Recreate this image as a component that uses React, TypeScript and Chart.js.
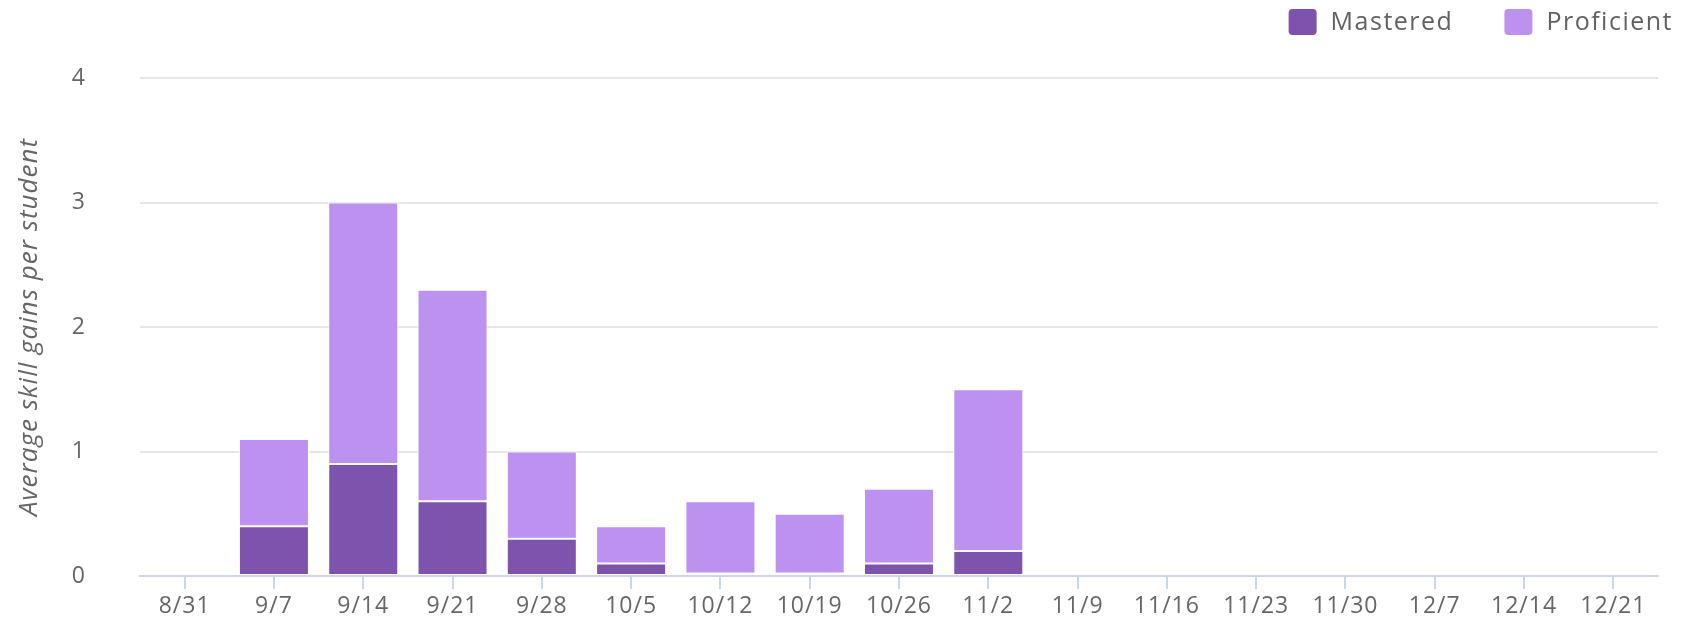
import React, { useEffect, useRef } from "react";
import { Chart, registerables } from "chart.js";

Chart.register(...registerables);

const weekLabels = ["8/31", "9/7", "9/14", "9/21", "9/28", "10/5", "10/12", "10/19", "10/26", "11/2", "11/9", "11/16", "11/23", "11/30", "12/7", "12/14", "12/21"];
const masteredValues = [null, 0.4, 0.9, 0.6, 0.3, 0.1, 0.02, 0.02, 0.1, 0.2, null, null, null, null, null, null, null];
const proficientValues = [null, 0.7, 2.1, 1.7, 0.7, 0.3, 0.58, 0.48, 0.6, 1.3, null, null, null, null, null, null, null];
const yTickValues = [0, 1, 2, 3, 4];
const seriesNames = ["Mastered", "Proficient"];
const seriesColors = ["#7e53ad", "#bd91f0"];

const FONT = "'Open Sans', 'Noto Sans', sans-serif";

const spacingPlugin = {
  id: "spacing",
  beforeUpdate(chart: any) {
    chart.ctx.letterSpacing = "1px";
  },
  beforeDraw(chart: any) {
    chart.ctx.letterSpacing = "1px";
  },
};

const customLegend = {
  id: "customLegend",
  afterDraw(chart: any) {
    const ctx = chart.ctx;
    const items = chart.data.datasets.map((d: any) => ({ text: d.label, color: d.backgroundColor }));
    ctx.save();
    ctx.font = `25px ${FONT}`;
    ctx.letterSpacing = "1.5px";
    ctx.textBaseline = "middle";
    ctx.textAlign = "left";
    const boxW = 28;
    const boxH = 26;
    const gapBoxText = 14;
    const gapItems = 51;
    const rightEdge = chart.width - 20;
    const widths = items.map((it: any) => boxW + gapBoxText + ctx.measureText(it.text).width);
    const total = widths.reduce((a: number, b: number) => a + b, 0) + gapItems * (items.length - 1);
    let x = rightEdge - total;
    const cy = 22;
    items.forEach((it: any, i: number) => {
      ctx.fillStyle = it.color;
      ctx.beginPath();
      (ctx as any).roundRect(x, cy - boxH / 2, boxW, boxH, 4);
      ctx.fill();
      ctx.fillStyle = "#626262";
      ctx.fillText(it.text, x + boxW + gapBoxText, cy + 1);
      x += widths[i] + gapItems;
    });
    ctx.restore();
  },
};

export default function App() {
  const ref = useRef<HTMLCanvasElement | null>(null);
  useEffect(() => {
    document.body.style.margin = "0";
    const canvas = ref.current;
    if (!canvas) return;
    const chart = new Chart(canvas, {
      type: "bar",
      data: {
        labels: weekLabels,
        datasets: [
          {
            label: seriesNames[0],
            data: masteredValues as any,
            backgroundColor: seriesColors[0],
            borderColor: "#ffffff",
            borderWidth: 1,
            borderSkipped: false,
            barPercentage: 0.784,
            categoryPercentage: 1,
          },
          {
            label: seriesNames[1],
            data: proficientValues as any,
            backgroundColor: seriesColors[1],
            borderColor: "#ffffff",
            borderWidth: 1,
            borderSkipped: false,
            barPercentage: 0.784,
            categoryPercentage: 1,
          },
        ],
      },
      options: {
        responsive: false,
        animation: false,
        layout: { padding: { top: 78, bottom: 0, left: 0, right: 35 } },
        plugins: {
          legend: { display: false },
          tooltip: { enabled: false },
        },
        scales: {
          x: {
            stacked: true,
            afterFit: (scale: any) => {
              scale.height = 44;
            },
            grid: {
              display: true,
              drawOnChartArea: false,
              drawTicks: true,
              tickLength: 13,
              color: "#ccd6eb",
              lineWidth: 2,
              offset: false,
            },
            border: { display: true, color: "#ccd6eb", width: 2 },
            ticks: {
              color: "#666666",
              font: { family: FONT, size: 23 },
              padding: 4,
              maxRotation: 0,
              autoSkip: false,
            },
          },
          y: {
            stacked: true,
            min: yTickValues[0],
            max: yTickValues[yTickValues.length - 1],
            afterBuildTicks: (scale: any) => {
              scale.ticks = yTickValues.map((v) => ({ value: v }));
            },
            afterFit: (scale: any) => {
              scale.width = 140;
              scale.paddingTop = 0;
              scale.paddingBottom = 0;
            },
            grid: { color: "#e6e6e6", lineWidth: 2, drawTicks: false },
            border: { display: false },
            ticks: {
              color: "#666666",
              font: { family: FONT, size: 23 },
              padding: 54,
            },
            title: {
              display: true,
              text: "Average skill gains per student",
              color: "#666666",
              font: { family: FONT, size: 26, style: "italic" },
              padding: { top: 14, bottom: 0 },
            },
          },
        },
      },
      plugins: [spacingPlugin, customLegend],
    });
    return () => chart.destroy();
  }, []);
  return (
    <div style={{ width: 1693, height: 620 }}>
      <canvas ref={ref} width={1693} height={620} style={{ display: "block" }} />
    </div>
  );
}
